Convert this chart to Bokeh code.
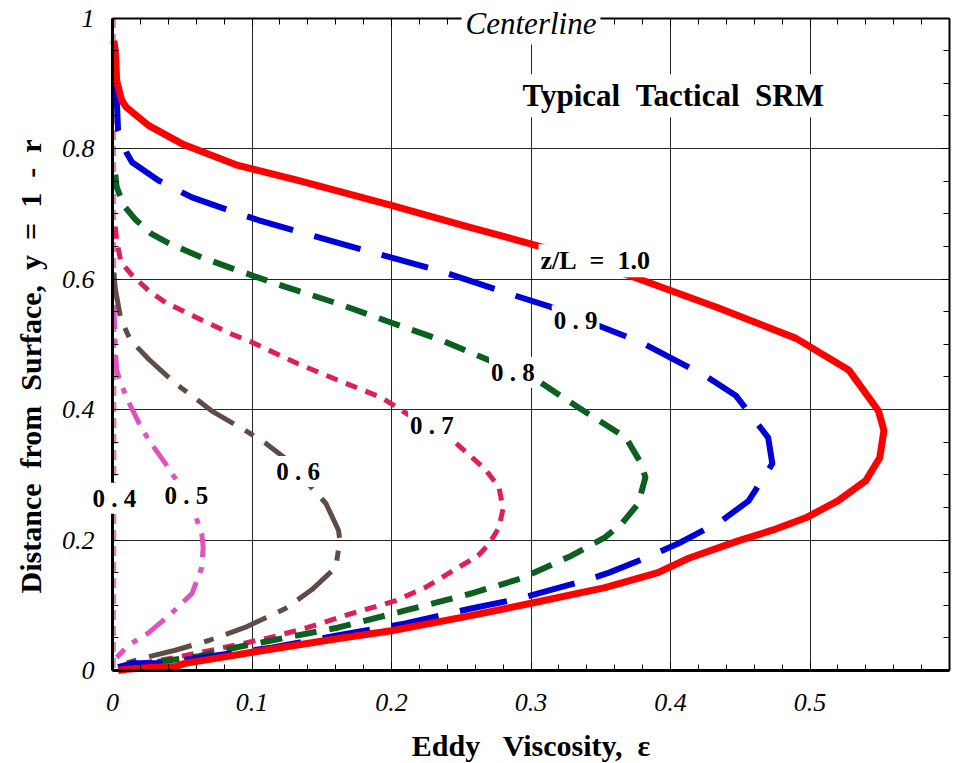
import math
from bokeh.plotting import figure
from bokeh.models import (Range1d, LinearAxis, SingleIntervalTicker, Label,
                          CustomJSTickFormatter)
from bokeh.embed import file_html
from bokeh.resources import INLINE

# ---- data (x = eddy viscosity, y = 1 - r) ----
zl10_x = [0.001, 0.002, 0.003, 0.0065, 0.010, 0.026, 0.050, 0.090, 0.133, 0.200, 0.255, 0.308,
          0.375, 0.434, 0.490, 0.528, 0.549, 0.553, 0.550, 0.540, 0.520, 0.497, 0.473, 0.449,
          0.413, 0.391, 0.353, 0.300, 0.257, 0.200, 0.162, 0.100, 0.075, 0.052, 0.045, 0.030,
          0.010, 0.004]
zl10_y = [0.965, 0.950, 0.904, 0.874, 0.863, 0.835, 0.807, 0.774, 0.751, 0.713, 0.680, 0.649,
          0.602, 0.556, 0.509, 0.460, 0.398, 0.368, 0.326, 0.291, 0.260, 0.234, 0.215, 0.199,
          0.172, 0.150, 0.127, 0.103, 0.084, 0.061, 0.049, 0.028, 0.019, 0.011, 0.006, 0.005,
          0.002, 0.0]

zl09_x = [0.002, 0.003, 0.004, 0.010, 0.014, 0.033, 0.057, 0.088, 0.105, 0.136, 0.186, 0.234,
          0.282, 0.313, 0.379, 0.427, 0.447, 0.470, 0.473, 0.456, 0.437, 0.406, 0.386, 0.356,
          0.339, 0.291, 0.257, 0.210, 0.162, 0.114, 0.074, 0.035, 0.014, 0.004]
zl09_y = [0.900, 0.878, 0.828, 0.794, 0.779, 0.751, 0.725, 0.702, 0.690, 0.671, 0.641, 0.613,
          0.579, 0.558, 0.503, 0.449, 0.421, 0.357, 0.317, 0.260, 0.230, 0.195, 0.176, 0.150,
          0.138, 0.110, 0.095, 0.072, 0.054, 0.035, 0.023, 0.011, 0.011, 0.005]

zl08_x = [0.002, 0.003, 0.008, 0.016, 0.028, 0.041, 0.064, 0.090, 0.114, 0.162, 0.200, 0.236,
          0.267, 0.305, 0.334, 0.368, 0.379, 0.382, 0.377, 0.365, 0.353, 0.329, 0.293, 0.257,
          0.210, 0.162, 0.114, 0.090, 0.062, 0.026, 0.011]
zl08_y = [0.760, 0.741, 0.713, 0.692, 0.669, 0.654, 0.633, 0.613, 0.595, 0.562, 0.533, 0.506,
          0.478, 0.444, 0.403, 0.357, 0.317, 0.296, 0.256, 0.225, 0.204, 0.176, 0.141, 0.118,
          0.092, 0.066, 0.046, 0.036, 0.022, 0.011, 0.003]

zl07_x = [0.002, 0.003, 0.006, 0.014, 0.026, 0.038, 0.062, 0.085, 0.100, 0.133, 0.157, 0.193,
          0.210, 0.246, 0.267, 0.277, 0.280, 0.277, 0.270, 0.262, 0.248, 0.224, 0.203, 0.171,
          0.140, 0.114, 0.097, 0.071, 0.045, 0.021, 0.006]
zl07_y = [0.680, 0.659, 0.626, 0.606, 0.582, 0.564, 0.539, 0.516, 0.503, 0.470, 0.449, 0.418,
          0.395, 0.349, 0.309, 0.281, 0.248, 0.219, 0.194, 0.176, 0.158, 0.127, 0.107, 0.087,
          0.066, 0.051, 0.043, 0.031, 0.020, 0.011, 0.003]

zl06_x = [0.001, 0.002, 0.006, 0.013, 0.026, 0.045, 0.059, 0.071, 0.095, 0.110, 0.124, 0.153,
          0.162, 0.163, 0.160, 0.143, 0.124, 0.095, 0.069, 0.045, 0.024, 0.009]
zl06_y = [0.610, 0.585, 0.538, 0.506, 0.477, 0.440, 0.418, 0.398, 0.368, 0.348, 0.325, 0.256,
          0.215, 0.199, 0.158, 0.124, 0.095, 0.066, 0.046, 0.031, 0.020, 0.011]

zl05_x = [0.001, 0.002, 0.003, 0.006, 0.011, 0.019, 0.026, 0.038, 0.046, 0.059, 0.064, 0.065,
          0.064, 0.057, 0.042, 0.026, 0.011, 0.003]
zl05_y = [0.560, 0.495, 0.460, 0.440, 0.414, 0.379, 0.353, 0.317, 0.291, 0.240, 0.210, 0.189,
          0.158, 0.118, 0.087, 0.058, 0.038, 0.020]

zl04_x = [0.0006, 0.0008, 0.0010, 0.0010, 0.0008, 0.0006]
zl04_y = [1.000, 0.800, 0.500, 0.300, 0.100, 0.000]

NB = "\u00a0"
curve_labels = ["z/L" + NB * 2 + "=" + NB * 2 + "1.0", "0 . 9", "0 . 8", "0 . 7",
                "0 . 6", "0 . 5", "0 . 4"]
label_x = [0.346, 0.332, 0.287, 0.229, 0.133, 0.053, 0.0014]
label_y = [0.628, 0.536, 0.457, 0.375, 0.305, 0.268, 0.264]

x_title = "Eddy" + NB * 3 + "Viscosity," + NB * 2 + "ε"
y_title = (NB * 2).join(["Distance", "from", "Surface,", "y", "=", "1", "-", "r"])

SERIF = "Liberation Serif"
W, H = 965, 763
PX_X, PX_Y = 1395.0, 652.5      # pixels per data unit
X0_PX, Y0_PX = 112.0, 670.0     # page position of the data origin
x_start = -X0_PX / PX_X
y_start = -(H - Y0_PX) / PX_Y

p = figure(width=W, height=H, output_backend="svg", toolbar_location=None,
           x_range=Range1d(x_start, x_start + W / PX_X),
           y_range=Range1d(y_start, y_start + H / PX_Y),
           x_axis_location=None, y_axis_location=None,
           min_border_left=0, min_border_right=0, min_border_top=0, min_border_bottom=0)
p.outline_line_color = None
p.background_fill_color = "white"
p.border_fill_color = "white"

xt = SingleIntervalTicker(interval=0.1, num_minor_ticks=5)
yt = SingleIntervalTicker(interval=0.2, num_minor_ticks=4)
fmt = CustomJSTickFormatter(code="return (Math.round(tick*10)/10).toString();")


def style_axis(ax, lw, show_labels):
    ax.axis_line_width = lw
    ax.axis_line_color = "black"
    ax.major_tick_in = 8
    ax.major_tick_out = 0
    ax.minor_tick_in = 6
    ax.minor_tick_out = 0
    ax.major_tick_line_width = 1
    ax.minor_tick_line_width = 1
    ax.major_tick_line_color = "black"
    ax.minor_tick_line_color = "black"
    if show_labels:
        ax.formatter = fmt
        ax.major_label_text_font = SERIF
        ax.major_label_text_font_style = "italic"
        ax.major_label_text_font_size = "26px"
        ax.major_label_text_color = "black"
    else:
        ax.major_label_text_font_size = "0px"
        ax.major_label_standoff = 0


bottom = LinearAxis(ticker=xt, bounds=(0, 0.6), fixed_location=0)
style_axis(bottom, 3, True)
bottom.major_label_standoff = 23
left = LinearAxis(ticker=yt, bounds=(0, 1), fixed_location=0)
style_axis(left, 3, True)
left.major_label_standoff = 18
left.major_label_text_align = "right"
top = LinearAxis(ticker=xt, bounds=(0, 0.6), fixed_location=1)
style_axis(top, 2, False)
right = LinearAxis(ticker=yt, bounds=(0, 1), fixed_location=0.6)
style_axis(right, 2, False)
p.add_layout(bottom, "below")
p.add_layout(left, "left")
p.add_layout(top, "above")
p.add_layout(right, "right")

p.xgrid.ticker = xt
p.ygrid.ticker = yt
p.xgrid.cross_bounds = (0, 1)
p.ygrid.cross_bounds = (0, 0.6)
p.xgrid.bounds = (0, 0.6)
p.ygrid.bounds = (0, 1)
p.xgrid.grid_line_color = "black"
p.ygrid.grid_line_color = "black"
p.xgrid.grid_line_width = 1
p.ygrid.grid_line_width = 1
p.xgrid.grid_line_alpha = 0.85
p.ygrid.grid_line_alpha = 0.85

common = dict(line_join="round")
p.line(zl04_x, zl04_y, line_color="#c8608a", line_width=5, line_dash="10 6", line_alpha=0.75,
       **common)
p.line(zl05_x, zl05_y, line_color="#e052bf", line_width=5, line_dash="24 10 6 10", **common)
p.line(zl06_x, zl06_y, line_color="#604c46", line_width=5, line_dash="44 13 10 13", **common)
p.line(zl07_x, zl07_y, line_color="#e01e5a", line_width=5, line_dash="12 9", **common)
p.line(zl08_x, zl08_y, line_color="#0b6020", line_width=6, line_dash="22 13", **common)
p.line(zl09_x, zl09_y, line_color="#0000d8", line_width=6, line_dash="48 22", **common)
p.line(zl10_x, zl10_y, line_color="#ff0000", line_width=7, **common)

for i, (t, lx, ly) in enumerate(zip(curve_labels, label_x, label_y)):
    p.add_layout(Label(x=lx, y=ly, text=t, text_align="center", text_baseline="middle",
                       text_font=SERIF, text_font_style="bold",
                       text_font_size="26px" if i == 0 else "25px",
                       text_color="black", background_fill_color="white", padding=2,
                       level="overlay"))

p.add_layout(Label(x=0.3, y=1.0, y_offset=-5, text="Centerline", text_align="center",
                   text_baseline="middle", text_font=SERIF, text_font_style="italic",
                   text_font_size="31px", text_color="black",
                   background_fill_color="white", padding=4, level="overlay"))
p.add_layout(Label(x=0.402, y=0.881, text="Typical" + NB * 2 + "Tactical" + NB * 2 + "SRM",
                   text_align="center", text_baseline="middle", text_font=SERIF,
                   text_font_style="bold", text_font_size="31px", text_color="black",
                   background_fill_color="white", padding=4, level="overlay"))

# axis titles
p.add_layout(Label(x=0.3, y=(Y0_PX - 745) / PX_Y, text=x_title, text_align="center",
                   text_baseline="middle", text_font=SERIF, text_font_style="bold",
                   text_font_size="30px", text_color="black"))
p.add_layout(Label(x=(30 - X0_PX) / PX_X, y=(Y0_PX - 366) / PX_Y, text=y_title,
                   angle=math.pi / 2, text_align="center", text_baseline="middle",
                   text_font=SERIF, text_font_style="bold", text_font_size="30px",
                   text_color="black"))

open("out.html", "w").write(file_html(p, INLINE))
